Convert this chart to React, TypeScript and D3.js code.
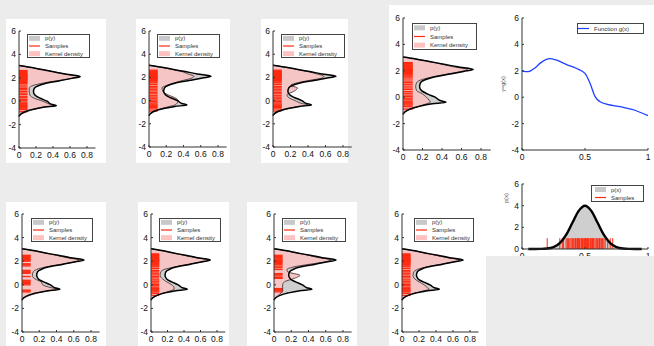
import * as d3 from 'd3';

// y grid shared by p(y) and the kernel density estimates
const yGrid = [-1.3, -1.1, -0.9, -0.7, -0.5, -0.38, -0.25, 0.0, 0.25, 0.5, 0.8, 1.1, 1.3, 1.5, 1.75, 1.95, 2.1, 2.3, 2.5, 2.7, 2.9, 3.05];
const pY = [0, 0.02, 0.07, 0.16, 0.3, 0.44, 0.38, 0.33, 0.25, 0.19, 0.17, 0.18, 0.22, 0.3, 0.48, 0.62, 0.72, 0.56, 0.42, 0.27, 0.13, 0];

const kde1 = [0, 0.03, 0.09, 0.18, 0.3, 0.42, 0.36, 0.28, 0.18, 0.13, 0.12, 0.12, 0.15, 0.25, 0.45, 0.62, 0.7, 0.55, 0.42, 0.28, 0.13, 0];
const kde2 = [0, 0.02, 0.06, 0.14, 0.24, 0.3, 0.32, 0.34, 0.3, 0.22, 0.16, 0.15, 0.2, 0.28, 0.4, 0.5, 0.52, 0.45, 0.38, 0.26, 0.12, 0];
const kde3 = [0, 0.03, 0.08, 0.17, 0.3, 0.4, 0.33, 0.25, 0.18, 0.16, 0.24, 0.28, 0.2, 0.26, 0.42, 0.56, 0.58, 0.5, 0.4, 0.27, 0.12, 0];
const kde4 = [0, 0.03, 0.08, 0.16, 0.24, 0.28, 0.27, 0.24, 0.2, 0.14, 0.13, 0.14, 0.18, 0.28, 0.45, 0.6, 0.66, 0.52, 0.4, 0.27, 0.13, 0];
const kde7 = [0, 0.03, 0.09, 0.18, 0.32, 0.42, 0.34, 0.24, 0.22, 0.15, 0.12, 0.13, 0.17, 0.27, 0.46, 0.62, 0.66, 0.52, 0.4, 0.27, 0.13, 0];
const kde8 = [0, 0.03, 0.08, 0.15, 0.24, 0.28, 0.28, 0.25, 0.19, 0.14, 0.11, 0.12, 0.16, 0.28, 0.46, 0.63, 0.7, 0.54, 0.4, 0.27, 0.13, 0];
const kde9 = [0, 0.02, 0.05, 0.08, 0.1, 0.1, 0.1, 0.1, 0.12, 0.22, 0.3, 0.16, 0.15, 0.22, 0.42, 0.6, 0.66, 0.52, 0.4, 0.27, 0.13, 0];
const kde10 = [0, 0.03, 0.08, 0.16, 0.26, 0.32, 0.3, 0.26, 0.2, 0.15, 0.13, 0.14, 0.18, 0.28, 0.46, 0.62, 0.68, 0.53, 0.4, 0.27, 0.13, 0];

const samplesY = [2.62, 2.55, 2.5, 2.44, 2.38, 2.33, 2.27, 2.21, 2.16, 2.12, 2.08, 2.04, 2.0, 1.96, 1.92, 1.86, 1.8, 1.74, 1.68, 1.6, 1.52, 1.38, 1.22, 1.1, 0.98, 0.84, 0.7, 0.58, 0.42, 0.3, 0.16, 0.04, -0.08, -0.2, -0.3, -0.38, -0.45, -0.52, -0.6, -0.72, -0.9];
const samples7 = [2.5, 2.44, 2.38, 2.3, 2.22, 2.15, 2.08, 2.0, 1.78, 1.7, 1.6, 1.22, 1.15, 1.05, 0.98, 0.7, 0.38, 0.3, 0.2, 0.1, 0.0, -0.45, -0.52, -0.6];
const samples9 = [2.5, 2.4, 2.3, 2.2, 2.12, 2.05, 1.98, 1.9, 1.8, 1.7, 1.58, 1.45, 1.3, 0.95, 0.85, 0.75, 0.62, 0.55, -0.32, -0.4, -0.5, -0.6];

// function g(x)
const gX = [0, 0.05, 0.1, 0.15, 0.22, 0.27, 0.35, 0.43, 0.5, 0.54, 0.58, 0.62, 0.67, 0.78, 0.89, 1.0];
const gY = [1.98, 1.93, 2.19, 2.62, 2.92, 2.82, 2.49, 2.19, 1.8, 1.05, 0.04, -0.34, -0.52, -0.72, -0.97, -1.4];

// p(x)
const pxX = [0.05, 0.1, 0.15, 0.2, 0.25, 0.3, 0.35, 0.4, 0.45, 0.5, 0.55, 0.6, 0.65, 0.7, 0.75, 0.8, 0.85, 0.9, 0.95];
const pxV = [0, 0.001, 0.01, 0.044, 0.175, 0.54, 1.3, 2.42, 3.52, 3.99, 3.52, 2.42, 1.3, 0.54, 0.175, 0.044, 0.01, 0.001, 0];
const samplesX = [0.2, 0.3, 0.32, 0.33, 0.35, 0.36, 0.37, 0.38, 0.39, 0.4, 0.41, 0.42, 0.425, 0.43, 0.44, 0.445, 0.45, 0.455, 0.46, 0.47, 0.475, 0.48, 0.49, 0.495, 0.5, 0.505, 0.51, 0.515, 0.52, 0.525, 0.53, 0.54, 0.545, 0.55, 0.56, 0.565, 0.57, 0.58, 0.59, 0.6, 0.61, 0.615, 0.62, 0.63, 0.64, 0.65, 0.66, 0.68, 0.7, 0.72];

const densTicksX = [0, 0.2, 0.4, 0.6, 0.8];
const densTicksY = [-4, -2, 0, 2, 4, 6];
const gTicksX = [0, 0.5, 1];
const pxTicksY = [0, 2, 4, 6];

const GRAY = '#cfcfcf';
const PINK = '#f5c4c4';
const RED = '#ff2a10';
const FONT = 'Liberation Sans, Arial, sans-serif';

const windows = [
  {x: 6, y: 19, w: 100, h: 144},
  {x: 136, y: 19, w: 94, h: 144},
  {x: 261, y: 19, w: 87, h: 144},
  {x: 6, y: 202, w: 100, h: 144},
  {x: 138, y: 202, w: 91, h: 144},
  {x: 247, y: 202, w: 110, h: 144},
  {x: 389, y: 5, w: 265, h: 341},
];

const densPanels = [
  {left: 19, right8: 87, top: 31, bottom: 148, kde: kde1, samples: samplesY, lg: [27, 34, 62, 23]},
  {left: 149, right8: 218, top: 31, bottom: 147, kde: kde2, samples: samplesY, lg: [157, 34, 62, 23]},
  {left: 273, right8: 343, top: 31, bottom: 147, kde: kde3, samples: samplesY, lg: [281, 34, 63, 23]},
  {left: 403, right8: 481, top: 18, bottom: 150, kde: kde4, samples: samplesY, lg: [412, 23, 64, 26]},
  {left: 22, right8: 91, top: 214, bottom: 332, kde: kde7, samples: samples7, lg: [31, 218, 61, 23]},
  {left: 151, right8: 217, top: 214, bottom: 332, kde: kde8, samples: samplesY, lg: [159, 218, 61, 23]},
  {left: 274, right8: 343, top: 214, bottom: 332, kde: kde9, samples: samples9, lg: [282, 218, 63, 23]},
  {left: 402, right8: 470, top: 214, bottom: 332, kde: kde10, samples: samplesY, lg: [414, 218, 59, 23]},
];

type Item = {kind: 'patch' | 'line', color: string, label: string};

const Legend = ({x, y, w, h, items, pad = 2}: {x: number, y: number, w: number, h: number, items: Item[], pad?: number}) => (
  <g>
    <rect x={x + 0.5} y={y + 0.5} width={w} height={h} fill="white" stroke="#444" strokeWidth={1}/>
    {items.map((it, i) => {
      const cy = y + (h * (i + 0.5)) / items.length + 0.5;
      return (
        <g key={i}>
          {it.kind === 'patch'
            ? <rect x={x + pad} y={cy - 2.5} width={11} height={5} fill={it.color}/>
            : <line x1={x + pad} x2={x + pad + 11} y1={cy} y2={cy} stroke={it.color} strokeWidth={1.2}/>}
          <text x={x + pad + 16} y={cy + 2} fontSize={6} fontFamily={FONT} fill="#333">{it.label}</text>
        </g>
      );
    })}
  </g>
);

const densItems: Item[] = [
  {kind: 'patch', color: '#c8c8c8', label: 'p(y)'},
  {kind: 'line', color: RED, label: 'Samples'},
  {kind: 'patch', color: '#ffc0c0', label: 'Kernel density'},
];

const Axes = ({x, y, xTicks, yTicks, xEnd}: any) => {
  const [x0] = x.range();
  const [y0, y1] = y.range();
  return (
    <g fontFamily={FONT} fontSize={8.5} fill="#111">
      <line x1={x0} x2={x0} y1={y0} y2={y1} stroke="#333" strokeWidth={1}/>
      <line x1={x0} x2={x(xEnd)} y1={y0} y2={y0} stroke="#333" strokeWidth={1}/>
      {yTicks.map((t: number) => (
        <g key={'y' + t}>
          <line x1={x0} x2={x0 + 2} y1={y(t)} y2={y(t)} stroke="#333"/>
          <text x={x0 - 3} y={y(t) + 3} textAnchor="end">{t}</text>
        </g>
      ))}
      {xTicks.map((t: number) => (
        <g key={'x' + t}>
          <line x1={x(t)} x2={x(t)} y1={y0} y2={y0 - 2} stroke="#333"/>
          <text x={x(t)} y={y0 + 10} textAnchor="middle">{t}</text>
        </g>
      ))}
    </g>
  );
};

const DensityPanel = ({p}: any) => {
  const x = d3.scaleLinear().domain([0, 0.8]).range([p.left, p.right8]);
  const y = d3.scaleLinear().domain([-4, 6]).range([p.bottom, p.top]);
  const pts = (vals: number[]) => yGrid.map((yy, i) => ({y: yy, v: vals[i]}));
  const area = d3.area<any>().x0(x(0)).x1(d => x(d.v)).y(d => y(d.y)).curve(d3.curveMonotoneY);
  const line = d3.line<any>().x(d => x(d.v)).y(d => y(d.y)).curve(d3.curveMonotoneY);
  const [lx, ly, lw, lh] = p.lg;
  return (
    <g>
      <path d={area(pts(pY)) as string} fill={GRAY}/>
      <path d={area(pts(p.kde)) as string} fill={PINK}/>
      {p.samples.map((s: number, i: number) => (
        <line key={i} x1={x(0)} x2={x(0.1)} y1={y(s)} y2={y(s)} stroke={RED} strokeWidth={1.3}/>
      ))}
      <path d={line(pts(p.kde)) as string} fill="none" stroke="#3a2a2a" strokeWidth={0.8}/>
      <path d={line(pts(pY)) as string} fill="none" stroke="#000" strokeWidth={1.5}/>
      <Axes x={x} y={y} xTicks={densTicksX} yTicks={densTicksY} xEnd={0.9}/>
      <Legend x={lx} y={ly} w={lw} h={lh} items={densItems}/>
    </g>
  );
};

const GPanel = () => {
  const x = d3.scaleLinear().domain([0, 1]).range([522, 648]);
  const y = d3.scaleLinear().domain([-4, 6]).range([150, 18]);
  const line = d3.line<number>().x((_, i) => x(gX[i])).y(d => y(d)).curve(d3.curveMonotoneX);
  return (
    <g>
      <path d={line(gY) as string} fill="none" stroke="#2040ff" strokeWidth={1.3}/>
      <Axes x={x} y={y} xTicks={gTicksX} yTicks={densTicksY} xEnd={1}/>
      <text transform="translate(505,84) rotate(-90)" textAnchor="middle" fontSize={5.5} fontFamily={FONT} fill="#555">y=g(x)</text>
      <Legend x={577} y={23} w={66} h={10} pad={1} items={[{kind: 'line', color: '#2040ff', label: 'Function g(x)'}]}/>
    </g>
  );
};

const PxPanel = () => {
  const x = d3.scaleLinear().domain([0, 1]).range([522, 648]);
  const y = d3.scaleLinear().domain([0, 6]).range([249, 184]);
  const area = d3.area<number>().x((_, i) => x(pxX[i])).y0(y(0)).y1(d => y(d)).curve(d3.curveMonotoneX);
  const line = d3.line<number>().x((_, i) => x(pxX[i])).y(d => y(d)).curve(d3.curveMonotoneX);
  return (
    <g>
      <path d={area(pxV) as string} fill={GRAY}/>
      {samplesX.map((s, i) => (
        <line key={i} x1={x(s)} x2={x(s)} y1={y(0)} y2={y(1)} stroke={RED} strokeWidth={1}/>
      ))}
      <path d={line(pxV) as string} fill="none" stroke="#000" strokeWidth={2.4}/>
      <Axes x={x} y={y} xTicks={gTicksX} yTicks={pxTicksY} xEnd={1}/>
      <text transform="translate(508,198) rotate(-90)" textAnchor="middle" fontSize={5.5} fontFamily={FONT} fill="#555">p(x)</text>
      <Legend x={591} y={185} w={52} h={16} pad={4} items={[
        {kind: 'patch', color: '#c8c8c8', label: 'p(x)'},
        {kind: 'line', color: RED, label: 'Samples'},
      ]}/>
    </g>
  );
};

export default function App() {
  return (
    <svg width={654} height={346} style={{position: 'absolute', left: 0, top: 0}}>
      <rect width={654} height={346} fill="#ececec"/>
      {windows.map((w, i) => <rect key={i} x={w.x} y={w.y} width={w.w} height={w.h} fill="white"/>)}
      {densPanels.map((p, i) => <DensityPanel key={i} p={p}/>)}
      <GPanel/>
      <PxPanel/>
      <rect x={486} y={256} width={168} height={90} fill="#ececec"/>
    </svg>
  );
}
